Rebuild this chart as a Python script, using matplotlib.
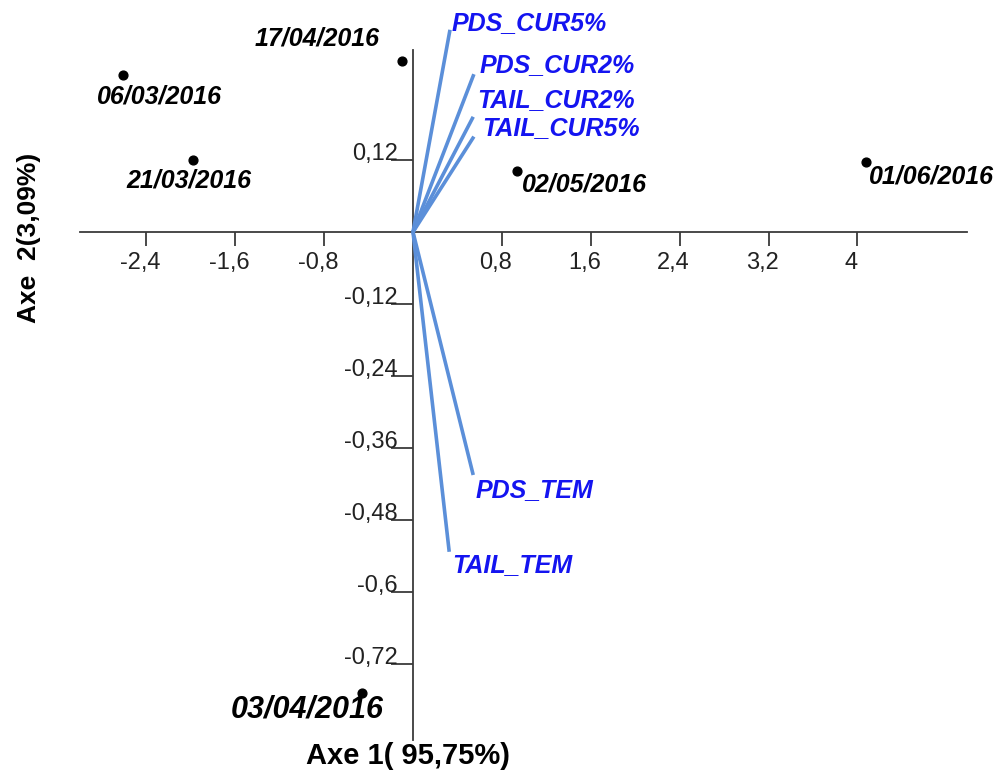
import matplotlib.pyplot as plt

plt.rcParams['font.family'] = ['Liberation Sans', 'DejaVu Sans']

# sampling dates projected on the first two axes
dates = ["06/03/2016", "17/04/2016", "21/03/2016", "02/05/2016", "01/06/2016", "03/04/2016"]
date_x = [-2.61, -0.10, -1.98, 0.94, 4.08, -0.46]
date_y = [0.261, 0.285, 0.120, 0.102, 0.117, -0.768]

# variable loadings
variables = ["PDS_CUR5%", "PDS_CUR2%", "TAIL_CUR2%", "TAIL_CUR5%", "PDS_TEM", "TAIL_TEM"]
var_x = [0.333, 0.548, 0.542, 0.548, 0.542, 0.326]
var_y = [0.337, 0.263, 0.192, 0.159, -0.405, -0.533]

xticks = [-2.4, -1.6, -0.8, 0.8, 1.6, 2.4, 3.2, 4]
xtick_labels = ["-2,4", "-1,6", "-0,8", "0,8", "1,6", "2,4", "3,2", "4"]
yticks = [0.12, -0.12, -0.24, -0.36, -0.48, -0.6, -0.72]
ytick_labels = ["0,12", "-0,12", "-0,24", "-0,36", "-0,48", "-0,6", "-0,72"]

# label placement relative to each mark, in pixels
date_offsets = [(36, -21), (-85, 23), (-4, -21), (67, -14), (65, -15), (-55, -17)]
date_sizes = [18, 18, 18, 18, 18, 22]
var_offsets = [(2, 7), (6, 9), (4, 17), (8, 9), (2, -15), (3, -13)]

AXIS_COLOR = "#3a3a3a"
VEC_COLOR = "#5b8fd9"
VAR_TEXT = "#1414f0"

fig = plt.figure(figsize=(9.99, 7.71), dpi=100)
ax = fig.add_axes([0, 0, 1, 1])
sx, sy = 111.1, 600.0  # pixels per unit
ax.set_xlim(-413 / sx, (999 - 413) / sx)
ax.set_ylim((232 - 771) / sy, 232 / sy)

for side in ("top", "right"):
    ax.spines[side].set_visible(False)
ax.spines["left"].set_position(("data", 0))
ax.spines["bottom"].set_position(("data", 0))
ax.spines["bottom"].set_bounds(-3.0, 4.99)
ax.spines["left"].set_bounds(-0.847, 0.303)
for side in ("left", "bottom"):
    ax.spines[side].set_color(AXIS_COLOR)
    ax.spines[side].set_linewidth(1.3)

ax.set_xticks(xticks)
ax.set_yticks(yticks)
ax.tick_params(axis="x", direction="out", length=10, width=1.3, color=AXIS_COLOR,
               labelbottom=False)
ax.tick_params(axis="y", direction="out", length=16, width=1.3, color=AXIS_COLOR,
               labelleft=False)

for v, s in zip(xticks, xtick_labels):
    ax.annotate(s, (v, 0), xytext=(-6, -31), textcoords="offset pixels",
                ha="center", va="center", fontsize=17, color="#222222")
for v, s in zip(yticks, ytick_labels):
    ax.annotate(s, (0, v), xytext=(-15, 0), textcoords="offset pixels",
                ha="right", va="baseline", fontsize=17, color="#222222")

# loading vectors
for name, x, y, off in zip(variables, var_x, var_y, var_offsets):
    ax.plot([0, x], [0, y], color=VEC_COLOR, lw=2.6, solid_capstyle="butt", zorder=3)
    ax.annotate(name, (x, y), xytext=off, textcoords="offset pixels",
                ha="left", va="center", fontsize=18, fontweight="bold",
                fontstyle="italic", color=VAR_TEXT)

# observations
ax.scatter(date_x, date_y, s=40, color="black", zorder=4)
for name, x, y, off, fs in zip(dates, date_x, date_y, date_offsets, date_sizes):
    ax.annotate(name, (x, y), xytext=off, textcoords="offset pixels",
                ha="center", va="center", fontsize=fs, fontweight="bold",
                fontstyle="italic", color="black")

fig.text(408 / 999, 1 - 756 / 771, "Axe 1( 95,75%)", ha="center", va="center",
         fontsize=21, fontweight="bold")
fig.text(29 / 999, 1 - 238 / 771, "Axe  2(3,09%)", ha="center", va="center",
         rotation=90, fontsize=19, fontweight="bold")

fig.savefig("out.png", dpi=100)
